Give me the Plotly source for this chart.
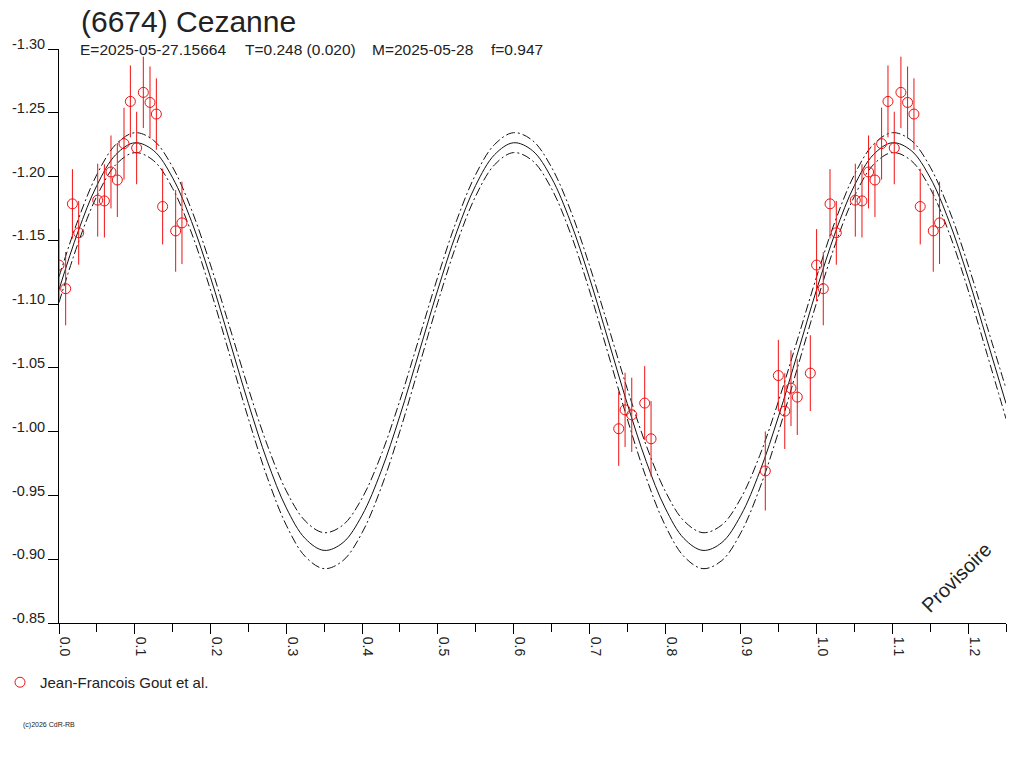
import numpy as np
import plotly.graph_objects as go

# --- observations (phase, reduced magnitude, error) ---
obs_phase = [0.0000, 0.0088, 0.0177, 0.0260, 0.0511, 0.0599, 0.0686, 0.0770,
             0.0858, 0.0942, 0.1025, 0.1113, 0.1201, 0.1285, 0.1368, 0.1540,
             0.1623, 0.7388, 0.7472, 0.7560, 0.7731, 0.7815, 0.9323, 0.9495,
             0.9580, 0.9662, 0.9745, 0.9917]
obs_mag = [-1.1306, -1.1121, -1.1786, -1.1559, -1.1815, -1.1809, -1.2036, -1.1973,
           -1.2258, -1.2589, -1.2224, -1.2660, -1.2581, -1.2490, -1.1765, -1.1574,
           -1.1637, -1.0023, -1.0171, -1.0132, -1.0224, -0.9944, -0.9692, -1.0440,
           -1.0161, -1.0341, -1.0271, -1.0459]
obs_err = [0.0282, 0.0287, 0.0272, 0.0250, 0.0286, 0.0287, 0.0286, 0.0290,
           0.0282, 0.0282, 0.0284, 0.0280, 0.0282, 0.0280, 0.0297, 0.0320,
           0.0323, 0.0291, 0.0291, 0.0291, 0.0290, 0.0296, 0.0310, 0.0280,
           0.0297, 0.0297, 0.0297, 0.0297]

# --- fitted curve and its envelopes, sampled every 0.025 in phase ---
fit_phase = np.round(np.arange(0, 1.2501, 0.025), 3)
fit_mid = [-1.1113, -1.1566, -1.1931, -1.2172, -1.2265, -1.2203, -1.1990, -1.1647,
           -1.1209, -1.0717, -1.0221, -0.9768, -0.9403, -0.9162, -0.9069, -0.9131,
           -0.9344, -0.9687, -1.0125, -1.0617,
           -1.1113, -1.1566, -1.1931, -1.2172, -1.2265, -1.2203, -1.1990, -1.1647,
           -1.1209, -1.0717, -1.0221, -0.9768, -0.9403, -0.9162, -0.9069, -0.9131,
           -0.9344, -0.9687, -1.0125, -1.0617,
           -1.1113, -1.1566, -1.1931, -1.2172, -1.2265, -1.2203, -1.1990, -1.1647,
           -1.1209, -1.0717, -1.0221]
fit_hi = [-1.1214, -1.1658, -1.2016, -1.2252, -1.2344, -1.2283, -1.2074, -1.1738,
          -1.1307, -1.0825, -1.0338, -0.9894, -0.9536, -0.9300, -0.9208, -0.9269,
          -0.9478, -0.9814, -1.0245, -1.0727,
          -1.1214, -1.1658, -1.2016, -1.2252, -1.2344, -1.2283, -1.2074, -1.1738,
          -1.1307, -1.0825, -1.0338, -0.9894, -0.9536, -0.9300, -0.9208, -0.9269,
          -0.9478, -0.9814, -1.0245, -1.0727,
          -1.1214, -1.1658, -1.2016, -1.2252, -1.2344, -1.2283, -1.2074, -1.1738,
          -1.1307, -1.0825, -1.0338]
fit_lo = [-1.1012, -1.1474, -1.1847, -1.2093, -1.2188, -1.2124, -1.1907, -1.1557,
          -1.1110, -1.0608, -1.0102, -0.9640, -0.9267, -0.9021, -0.8926, -0.8990,
          -0.9207, -0.9557, -1.0004, -1.0506,
          -1.1012, -1.1474, -1.1847, -1.2093, -1.2188, -1.2124, -1.1907, -1.1557,
          -1.1110, -1.0608, -1.0102, -0.9640, -0.9267, -0.9021, -0.8926, -0.8990,
          -0.9207, -0.9557, -1.0004, -1.0506,
          -1.1012, -1.1474, -1.1847, -1.2093, -1.2188, -1.2124, -1.1907, -1.1557,
          -1.1110, -1.0608, -1.0102]

x_ticks = [0.0, 0.1, 0.2, 0.3, 0.4, 0.5, 0.6, 0.7, 0.8, 0.9, 1.0, 1.1, 1.2]
x_labels = ["0.0", "0.1", "0.2", "0.3", "0.4", "0.5", "0.6", "0.7", "0.8",
            "0.9", "1.0", "1.1", "1.2"]
y_ticks = [-1.30, -1.25, -1.20, -1.15, -1.10, -1.05, -1.00, -0.95, -0.90, -0.85]
y_labels = ["-1.30", "-1.25", "-1.20", "-1.15", "-1.10", "-1.05", "-1.00",
            "-0.95", "-0.90", "-0.85"]

FONT = "Liberation Sans, Arial, sans-serif"
RED = "#f01010"
INK = "#222222"

# phases below 0.25 are repeated one cycle later
ph = np.array(obs_phase)
mg = np.array(obs_mag)
er = np.array(obs_err)
wrap = ph < 0.25
px = np.concatenate([ph, ph[wrap] + 1.0])
py = np.concatenate([mg, mg[wrap]])
pe = np.concatenate([er, er[wrap]])

fig = go.Figure()
for yy, dash in [(fit_hi, "9px,3px,2px,3px"), (fit_lo, "9px,3px,2px,3px"),
                 (fit_mid, "solid")]:
    fig.add_trace(go.Scatter(x=fit_phase, y=yy, mode="lines",
                             line=dict(color="#111111", width=1, dash=dash,
                                       shape="spline"),
                             showlegend=False, hoverinfo="skip"))

fig.add_trace(go.Scatter(x=px, y=py, mode="markers",
                         name="Jean-Francois Gout et al.",
                         marker=dict(symbol="circle-open", size=10, color=RED,
                                     line=dict(width=1, color=RED)),
                         error_y=dict(type="data", array=pe, visible=True,
                                      color=RED, thickness=1, width=0)))

axis_font = dict(family=FONT, size=14.5, color=INK)
fig.update_layout(
    width=1024, height=768,
    margin=dict(l=59, r=18, t=49, b=144.5, autoexpand=False),
    paper_bgcolor="white", plot_bgcolor="white",
    font=dict(family=FONT, color=INK),
    xaxis=dict(range=[0, 1.25], tickvals=x_ticks, ticktext=x_labels,
               tickangle=90, ticks="outside", ticklen=10, tickcolor="black",
               ticklabelshift=6, showline=True, linecolor="black", linewidth=1,
               showgrid=False, zeroline=False,
               tickfont=dict(family=FONT, size=14, color=INK),
               minor=dict(dtick=0.05, tick0=0, ticks="outside", ticklen=8,
                          tickcolor="black")),
    yaxis=dict(range=[-0.85, -1.30], tickvals=y_ticks, ticktext=y_labels,
               ticks="outside", ticklen=10, tickcolor="black",
               ticklabelshift=5, ticklabelstandoff=0,
               showline=True, linecolor="black", linewidth=1,
               showgrid=False, zeroline=False, tickfont=axis_font),
    showlegend=True,
    legend=dict(x=-0.0623, y=-0.1036, xanchor="left", yanchor="middle",
                font=dict(family=FONT, size=15, color=INK),
                bgcolor="rgba(0,0,0,0)", itemwidth=30),
)

ann = [
    dict(text="(6674) Cezanne", x=0.0214, y=1.0478, size=30),
    dict(text="E=2025-05-27.15664", x=0.0204, y=0.9995, size=15.5),
    dict(text="T=0.248 (0.020)", x=0.1946, y=0.9995, size=15.5),
    dict(text="M=2025-05-28", x=0.3284, y=0.9995, size=15.5),
    dict(text="f=0.947", x=0.4541, y=0.9995, size=15.5),
    dict(text="(c)2026 CdR-RB", x=-0.0405, y=-0.1784, size=7),
]
for a in ann:
    fig.add_annotation(text=a["text"], x=a["x"], y=a["y"], xref="paper",
                       yref="paper", xanchor="left", yanchor="middle",
                       showarrow=False,
                       font=dict(family=FONT, size=a["size"], color=INK))

fig.add_annotation(text="Provisoire", x=0.9482, y=0.0801, xref="paper",
                   yref="paper", xanchor="center", yanchor="middle",
                   textangle=-45, showarrow=False,
                   font=dict(family=FONT, size=20, color=INK))

# drop the default body margin so the figure fills the window exactly
fig.write_html("out.html", config={"displayModeBar": False},
               post_script="document.body.style.margin = '0px';")
